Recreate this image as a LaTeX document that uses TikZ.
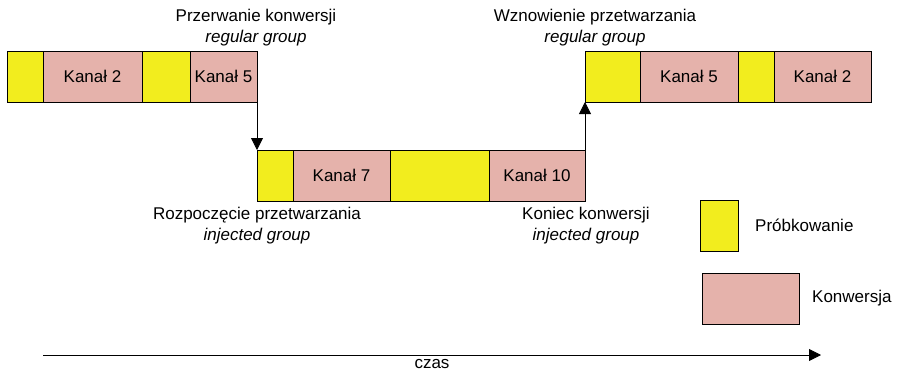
\documentclass[tikz,border=0pt]{standalone}
\usepackage{fontspec}
\setmainfont{Liberation Sans}
\usetikzlibrary{positioning}
\usetikzlibrary{arrows.meta}
\definecolor{probka}{RGB}{242,237,30}
\definecolor{konw}{RGB}{229,178,171}
\tikzset{
  slot/.style={draw, line width=0.8pt, outer sep=0pt, inner sep=0pt, minimum height=51pt},
  probe/.style={slot, fill=probka},
  conv/.style={slot, fill=konw},
  note/.style={align=center, inner sep=0pt},
  jump/.style={line width=0.8pt, -{Triangle[length=12pt,width=12pt]}}
}

\begin{document}
\begin{tikzpicture}[x=1pt,y=-1pt,font=\fontsize{17}{21}\selectfont]
\useasboundingbox (0,0) rectangle (898,375);
% regular group, before the break
\node[probe, minimum width=36pt, anchor=north west] (r1) at (7,51) {};
\node[conv, minimum width=99pt, right=0pt of r1] (r2) {Kanał 2};
\node[probe, minimum width=48pt, right=0pt of r2] (r3) {};
\node[conv, minimum width=67pt, right=0pt of r3] (r4) {Kanał 5};
% injected group
\node[probe, minimum width=36pt, anchor=north west] (i1) at (257,150) {};
\node[conv, minimum width=97pt, right=0pt of i1] (i2) {Kanał 7};
\node[probe, minimum width=99pt, right=0pt of i2] (i3) {};
\node[conv, minimum width=96pt, right=0pt of i3] (i4) {Kanał 10};
% regular group, resumed
\node[probe, minimum width=55pt, anchor=north west] (w1) at (585,51) {};
\node[conv, minimum width=98pt, right=0pt of w1] (w2) {Kanał 5};
\node[probe, minimum width=36pt, right=0pt of w2] (w3) {};
\node[conv, minimum width=97pt, right=0pt of w3] (w4) {Kanał 2};
\draw[jump] (r4.south east) -- (i1.north west);
\draw[jump] (i4.north east) -- (w1.south west);
% labels
\node[note] (przerw) at (256,28) {Przerwanie konwersji\\\textit{regular group}};
\node[note] (wznow) at (595,28) {Wznowienie przetwarzania\\\textit{regular group}};
\node[note] (rozp) at (257,226) {Rozpoczęcie przetwarzania\\\textit{injected group}};
\node[note] (koniec) at (586,226) {Koniec konwersji\\\textit{injected group}};
% legend
\node[probe, minimum width=38pt, anchor=north west] (lp) at (700,200) {};
\node[note, right=17pt of lp] (lpt) {Próbkowanie};
\node[conv, minimum width=97pt, anchor=north west] (lk) at (702,273) {};
\node[note, right=13pt of lk] (lkt) {Konwersja};
% time axis
\coordinate (t0) at (43,355);
\coordinate (t1) at (821,355);
\draw[jump] (t0) -- (t1) node[note, midway, below=4pt] (czas) {czas};
\end{tikzpicture}
\end{document}
